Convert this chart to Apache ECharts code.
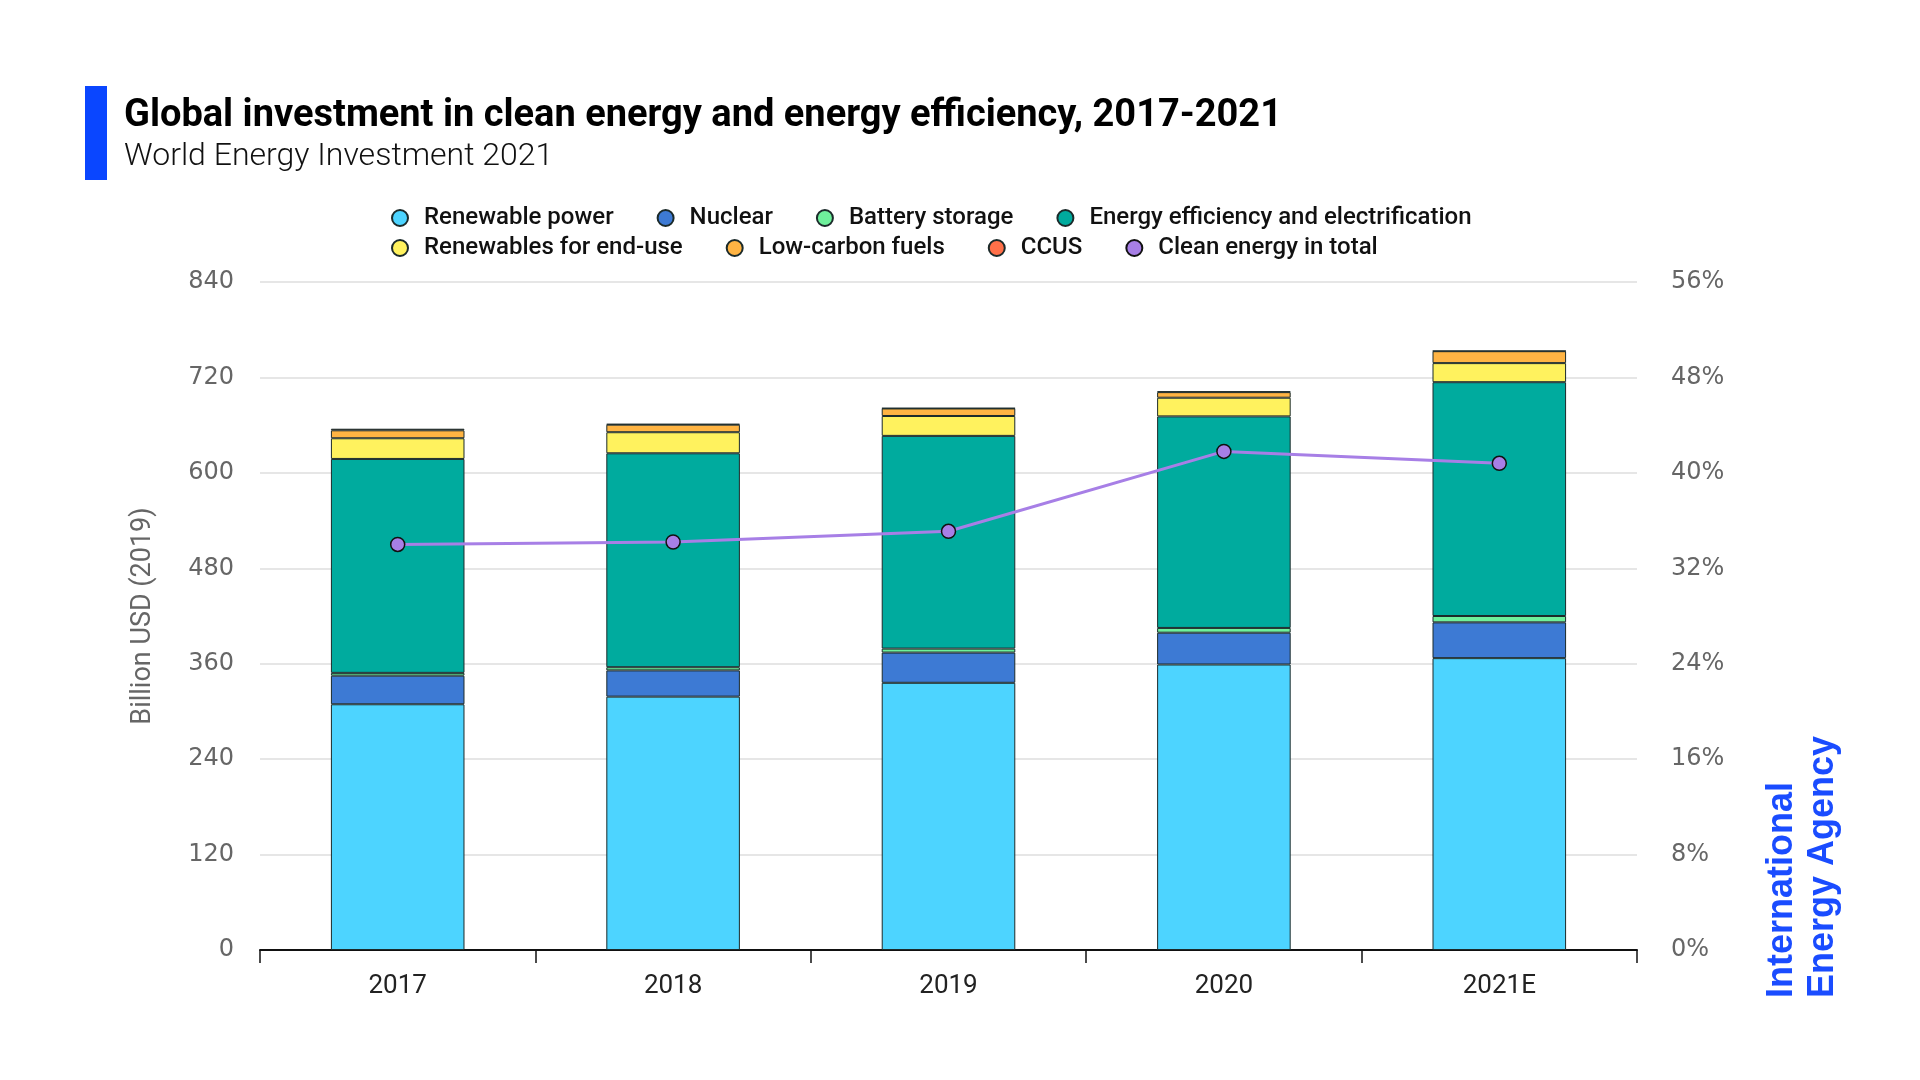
<!DOCTYPE html>
<html>
<head>
<meta charset="utf-8">
<script src="https://cdn.jsdelivr.net/npm/echarts@6/dist/echarts.min.js"></script>
<style>
  html, body { margin: 0; padding: 0; background: #ffffff; }
  #chart { width: 1920px; height: 1080px; }
</style>
</head>
<body>
<div id="chart"></div>
<script>
// Clean energy investment, billion USD (2019)
const years = ["2017", "2018", "2019", "2020", "2021E"];
const renewablePower = [309, 318.6, 336, 359, 367];
const nuclear = [36, 33, 38, 40, 45];
const batteryStorage = [3.5, 4, 5, 6, 8];
const efficiency = [269, 269, 267.5, 266, 294];
const renewablesEndUse = [26, 26.5, 25, 23.5, 24];
const lowCarbonFuels = [10, 9.5, 9.5, 7, 15];
const ccus = [2, 1, 0.5, 1, 0.5];
// share of clean energy in total energy investment, %
const cleanShare = [34.0, 34.2, 35.1, 41.8, 40.8];

const leftTicks = { min: 0, max: 840, interval: 120 };
const rightTicks = { min: 0, max: 56, interval: 8 };

const narrow = "'Roboto', sans-serif";
const round = "'DejaVu Sans', sans-serif";

const colors = {
    renewable: "#4dd4ff",
    nuclear: "#3d7ad4",
    battery: "#6ef09b",
    efficiency: "#00ab9e",
    endUse: "#fff25e",
    lowCarbon: "#ffb443",
    ccus: "#ff7049",
    total: "#a77fe6",
};

function barSeries(name, data, color) {
    return {
        name,
        type: "bar",
        stack: "invest",
        barWidth: "48.5%",
        data,
        itemStyle: { color, borderColor: "#1b2a2a", borderWidth: 1 },
        emphasis: { disabled: true },
    };
}

const chart = echarts.init(document.getElementById("chart"), null, {
    renderer: "canvas",
});

const legendText = {
    fontFamily: narrow,
    fontSize: 24,
    fontWeight: 500,
    color: "#111",
    padding: [0, 0, 0, 11],
};

chart.setOption({
    backgroundColor: "#ffffff",
    animation: false,
    title: [
        {
            text: "Global investment in clean energy and energy efficiency, 2017-2021",
            left: 119,
            top: 92,
            textStyle: { fontFamily: narrow, fontSize: 38, fontWeight: "bold", color: "#000" },
        },
        {
            text: "World Energy Investment 2021",
            left: 119,
            top: 136,
            textStyle: { fontFamily: narrow, fontSize: 32, fontWeight: 300, color: "#111" },
        },
    ],
    graphic: [
        { type: "rect", shape: { x: 85, y: 86, width: 22, height: 94 }, style: { fill: "#0a46ff" } },
        {
            type: "text",
            x: 1762,
            y: 998,
            rotation: Math.PI / 2,
            style: {
                text: "International\nEnergy Agency",
                fill: "#1a4cff",
                font: "bold 36px 'Liberation Sans', Arial, sans-serif",
                lineHeight: 41,
                textAlign: "left",
                textVerticalAlign: "top",
            },
        },
    ],
    legend: [
        {
            left: 386,
            top: 201,
            icon: "circle",
            itemWidth: 16,
            itemHeight: 16,
            itemGap: 43,
            textStyle: legendText,
            data: ["Renewable power", "Nuclear", "Battery storage", "Energy efficiency and electrification"],
        },
        {
            left: 386,
            top: 231,
            icon: "circle",
            itemWidth: 16,
            itemHeight: 16,
            itemGap: 43,
            textStyle: legendText,
            data: ["Renewables for end-use", "Low-carbon fuels", "CCUS", "Clean energy in total"],
        },
    ],
    grid: { left: 260, right: 283, top: 282, bottom: 130, containLabel: false },
    xAxis: {
        type: "category",
        data: years,
        axisLine: { lineStyle: { color: "#111", width: 2 } },
        axisTick: { show: true, length: 13, lineStyle: { color: "#111", width: 1.5 } },
        axisLabel: { fontFamily: narrow, fontSize: 26, color: "#222", margin: 23 },
    },
    yAxis: [
        {
            type: "value",
            min: leftTicks.min,
            max: leftTicks.max,
            interval: leftTicks.interval,
            name: "Billion USD (2019)",
            nameLocation: "middle",
            nameGap: 103,
            nameTextStyle: { fontFamily: narrow, fontSize: 27, color: "#666" },
            axisLine: { show: false },
            axisTick: { show: false },
            axisLabel: { fontFamily: round, fontSize: 24, color: "#666", margin: 26, padding: [6, 0, 0, 0] },
            splitLine: { lineStyle: { color: "#e6e6e6", width: 2 } },
        },
        {
            type: "value",
            min: rightTicks.min,
            max: rightTicks.max,
            interval: rightTicks.interval,
            position: "right",
            axisLine: { show: false },
            axisTick: { show: false },
            axisLabel: { fontFamily: round, fontSize: 24, color: "#666", margin: 34, padding: [6, 0, 0, 0], formatter: "{value}%" },
            splitLine: { show: false },
        },
    ],
    series: [
        barSeries("Renewable power", renewablePower, colors.renewable),
        barSeries("Nuclear", nuclear, colors.nuclear),
        barSeries("Battery storage", batteryStorage, colors.battery),
        barSeries("Energy efficiency and electrification", efficiency, colors.efficiency),
        barSeries("Renewables for end-use", renewablesEndUse, colors.endUse),
        barSeries("Low-carbon fuels", lowCarbonFuels, colors.lowCarbon),
        barSeries("CCUS", ccus, colors.ccus),
        {
            name: "Clean energy in total",
            type: "line",
            yAxisIndex: 1,
            data: cleanShare,
            symbol: "circle",
            symbolSize: 14,
            lineStyle: { color: colors.total, width: 3 },
            itemStyle: { color: colors.total, borderColor: "#111", borderWidth: 1.5 },
            emphasis: { disabled: true },
            z: 5,
        },
    ],
});
</script>
</body>
</html>
